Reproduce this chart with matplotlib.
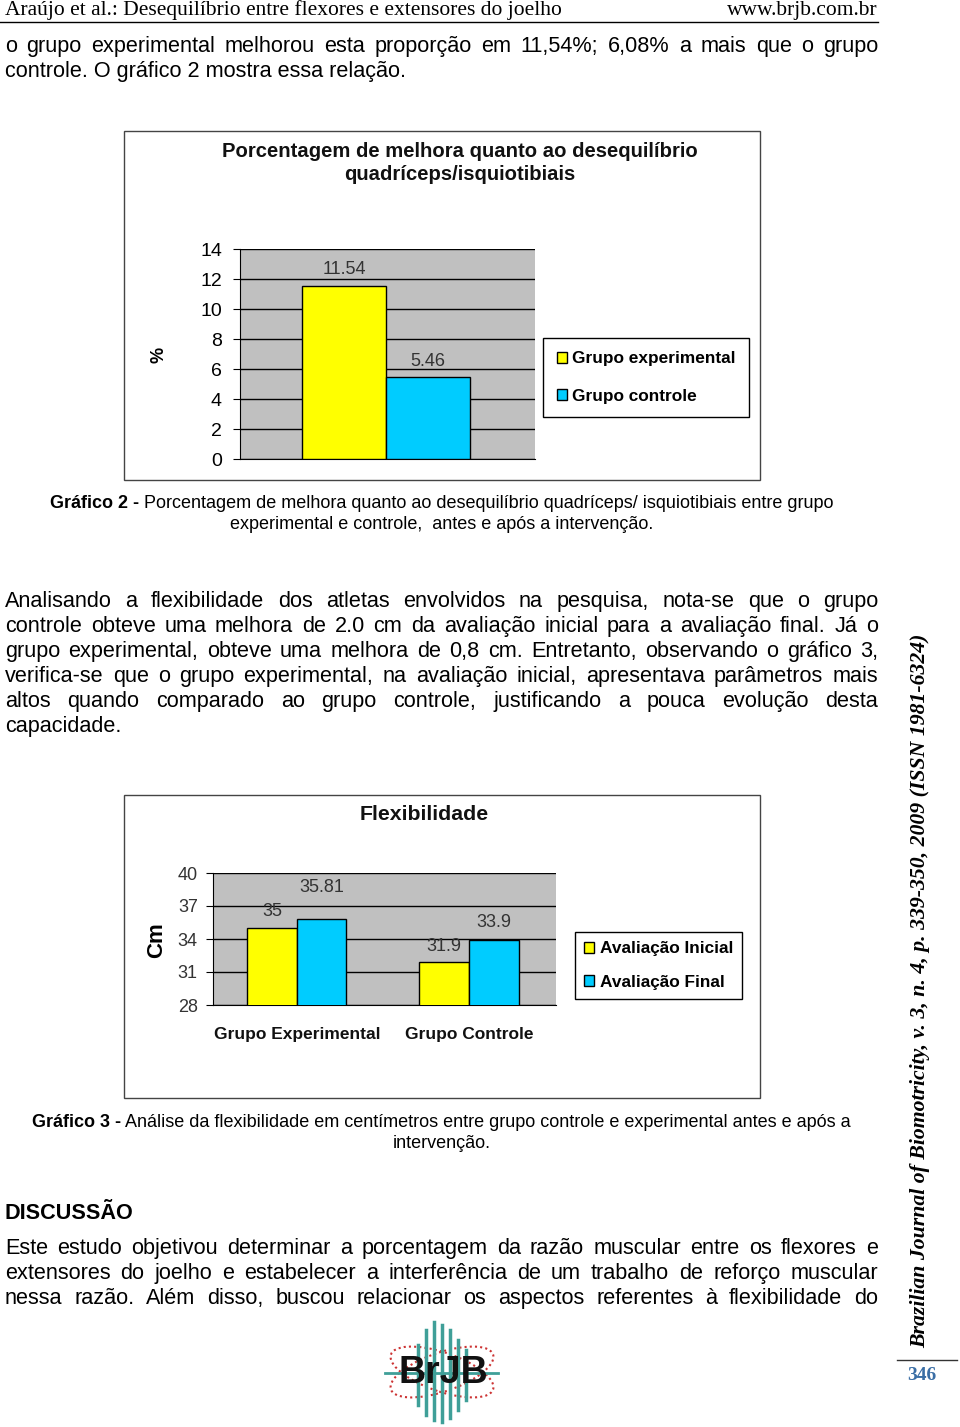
import matplotlib
matplotlib.use('Agg')
import matplotlib.pyplot as plt
from matplotlib.patches import Rectangle, Ellipse, Patch
from matplotlib.lines import Line2D
from matplotlib.transforms import ScaledTranslation
import numpy as np

W, H = 960, 1427
SANS = 'Liberation Sans'
SERIF = 'Liberation Serif'
BODY = 15.6

# Gráfico 2 - porcentagem de melhora
g2_series = ['Grupo experimental', 'Grupo controle']
g2_values = [11.54, 5.46]
g2_yticks = [0, 2, 4, 6, 8, 10, 12, 14]

# Gráfico 3 - flexibilidade (cm)
g3_groups = ['Grupo Experimental', 'Grupo Controle']
g3_series = ['Avaliação Inicial', 'Avaliação Final']
g3_inicial = [35, 31.9]
g3_final = [35.81, 33.9]
g3_yticks = [28, 31, 34, 37, 40]

YELLOW = '#ffff00'
CYAN = '#00ccff'
GRAY = '#c0c0c0'

fig = plt.figure(figsize=(9.6, 14.27), dpi=100)
rend = fig.canvas.get_renderer()


def fx(x):
    return x / W


def fy(y):
    return 1 - y / H


def txt(x, y, s, **kw):
    kw.setdefault('family', SANS)
    kw.setdefault('va', 'center')
    return fig.text(fx(x), fy(y), s, **kw)


def width(s, **kw):
    t = txt(0, 0, s, **kw)
    w = t.get_window_extent(rend).width
    t.remove()
    return w


def line(x, y, s, size=BODY, **kw):
    # y = centro visual da linha; desenha na linha de base
    return txt(x, y + size * 0.36, s, fontsize=size, va='baseline', **kw)


def justify(y, frase, x0=5, x1=878, size=BODY):
    # espalha as palavras entre as margens (texto justificado)
    words = frase.split()
    ws = [width(w, fontsize=size) for w in words]
    gap = (x1 - x0 - sum(ws)) / (len(words) - 1)
    x = x0
    for w, wd in zip(words, ws):
        line(x, y, w, size)
        x += wd + gap


def caption(y, bold, rest, cx=441.5, size=13):
    wb = width(bold, fontsize=size, weight='bold')
    wr = width(rest, fontsize=size)
    x = cx - (wb + wr) / 2
    line(x, y, bold, size, weight='bold')
    line(x + wb, y, rest, size)


def box(x0, y0, x1, y1):
    fig.add_artist(Rectangle((fx(x0), fy(y1)), (x1 - x0) / W, (y1 - y0) / H,
                             transform=fig.transFigure, fill=False,
                             ec='#444444', lw=1))


# cabeçalho
line(5, 9, 'Araújo et al.: Desequilíbrio entre flexores e extensores do joelho',
     15.5, family=SERIF)
line(878, 9, 'www.brjb.com.br', 15.5, family=SERIF, ha='right')
fig.add_artist(Line2D([0, fx(878)], [fy(22), fy(22)], color='black', lw=1))

justify(46, 'o grupo experimental melhorou esta proporção em 11,54%; 6,08% a mais que o grupo')
line(5, 71, 'controle. O gráfico 2 mostra essa relação.')

# ---------- gráfico 2 ----------
box(124, 131, 760, 480)
txt(459.5, 163, 'Porcentagem de melhora quanto ao desequilíbrio\nquadríceps/isquiotibiais',
    fontsize=14.6, weight='bold', ha='center', linespacing=1.3, color='#111111')

ax1 = fig.add_axes([fx(240), fy(459), 295 / W, 210 / H])
ax1.set_facecolor(GRAY)
cores1 = [YELLOW, CYAN]
for i, (nome, v) in enumerate(zip(g2_series, g2_values)):
    ax1.bar(i, v, width=1, color=cores1[i], edgecolor='black', lw=1,
            zorder=3, label=nome)
    ax1.annotate(f'{v:.2f}', (i, v), xytext=(0, 11.5), textcoords='offset points',
                 ha='center', va='center', fontsize=13, color='#333333',
                 family=SANS)
ax1.set_xlim(-1.238, 2.274)
ax1.set_ylim(0, 14)
ax1.set_yticks(g2_yticks)
ax1.set_xticks([])
ax1.grid(axis='y', color='black', lw=1, zorder=1)
ax1.set_axisbelow(True)
for s in ['top', 'right']:
    ax1.spines[s].set_visible(False)
ax1.spines['left'].set_color('black')
ax1.spines['bottom'].set_color('black')
ax1.tick_params(axis='y', length=5, direction='out', labelsize=14, pad=8)
for t in ax1.get_yticklabels():
    t.set_family(SANS)
ax1.set_ylabel('%', fontsize=13, weight='bold', family=SANS)
ax1.yaxis.set_label_coords(-0.247, 0.495)

h1 = [Patch(fc=c, ec='black', lw=1) for c in cores1]
leg1 = ax1.legend(h1, g2_series, loc='center',
                  bbox_to_anchor=(fx(646), fy(377.5)), bbox_transform=fig.transFigure,
                  prop={'family': SANS, 'weight': 'bold', 'size': 12.4},
                  handlelength=0.6, handleheight=0.6, handletextpad=0.3,
                  labelspacing=1.3, borderpad=0.8, fancybox=False,
                  edgecolor='black', framealpha=1)
leg1.get_frame().set_linewidth(1)

caption(503, 'Gráfico 2 -', ' Porcentagem de melhora quanto ao desequilíbrio quadríceps/ isquiotibiais entre grupo')
line(441.5, 524, 'experimental e controle,  antes e após a intervenção.', 13, ha='center')

justify(601, 'Analisando a flexibilidade dos atletas envolvidos na pesquisa, nota-se que o grupo')
justify(626, 'controle obteve uma melhora de 2.0 cm da avaliação inicial para a avaliação final. Já o')
justify(651, 'grupo experimental, obteve uma melhora de 0,8 cm. Entretanto, observando o gráfico 3,')
justify(676, 'verifica-se que o grupo experimental, na avaliação inicial, apresentava parâmetros mais')
justify(701, 'altos quando comparado ao grupo controle, justificando a pouca evolução desta')
line(5, 726, 'capacidade.')

# ---------- gráfico 3 ----------
box(124, 795, 760, 1098)
txt(424, 815, 'Flexibilidade', fontsize=15.3, weight='bold', ha='center', color='#111111')

ax2 = fig.add_axes([fx(213), fy(1005), 343 / W, 132 / H])
ax2.set_facecolor(GRAY)
x = np.arange(len(g3_groups))
bw = 0.288
ax2.bar(x - bw / 2, g3_inicial, width=bw, color=YELLOW, edgecolor='black',
        lw=1, zorder=3, label=g3_series[0])
ax2.bar(x + bw / 2, g3_final, width=bw, color=CYAN, edgecolor='black',
        lw=1, zorder=3, label=g3_series[1])
offs_ini = [12, 11.5]
offs_fin = [23, 12.5]
for xs, vals, offs in [(x - bw / 2, g3_inicial, offs_ini), (x + bw / 2, g3_final, offs_fin)]:
    for xi, v, o in zip(xs, vals, offs):
        ax2.annotate(f'{v:g}', (xi, v), xytext=(0, o), textcoords='offset points',
                     ha='center', va='center', fontsize=13, color='#333333',
                     family=SANS)
ax2.set_xlim(-0.488, 1.506)
ax2.set_ylim(28, 40)
ax2.set_yticks(g3_yticks)
ax2.set_xticks(x)
ax2.set_xticklabels(g3_groups, fontsize=12.5, weight='bold', family=SANS, color='#111111')
# o rótulo "Grupo Controle" aparece deslocado para a direita no original
lbl = ax2.get_xticklabels()[1]
lbl.set_transform(lbl.get_transform() + ScaledTranslation(21 / 100, 0, fig.dpi_scale_trans))
ax2.grid(axis='y', color='black', lw=1, zorder=1)
ax2.set_axisbelow(True)
for s in ['top', 'right']:
    ax2.spines[s].set_visible(False)
ax2.tick_params(axis='x', length=0, pad=16)
ax2.tick_params(axis='y', length=5, direction='out', labelsize=13, pad=6,
                labelcolor='#333333')
for t in ax2.get_yticklabels():
    t.set_family(SANS)
ax2.set_ylabel('Cm', fontsize=16, weight='bold', family=SANS)
ax2.yaxis.set_label_coords(-0.134, 0.49)

leg2 = ax2.legend(loc='center', bbox_to_anchor=(fx(658.5), fy(965.5)),
                  bbox_transform=fig.transFigure,
                  prop={'family': SANS, 'weight': 'bold', 'size': 12.4},
                  handlelength=0.6, handleheight=0.6, handletextpad=0.3,
                  labelspacing=1.05, borderpad=0.55, fancybox=False,
                  edgecolor='black', framealpha=1)
leg2.get_frame().set_linewidth(1)

caption(1122, 'Gráfico 3 -', ' Análise da flexibilidade em centímetros entre grupo controle e experimental antes e após a')
line(441.5, 1143, 'intervenção.', 13, ha='center')

line(5, 1213, 'DISCUSSÃO', weight='bold')
justify(1248, 'Este estudo objetivou determinar a porcentagem da razão muscular entre os flexores e')
justify(1273, 'extensores do joelho e estabelecer a interferência de um trabalho de reforço muscular')
justify(1298, 'nessa razão. Além disso, buscou relacionar os aspectos referentes à flexibilidade do')

# faixa lateral
txt(920, 990.5, 'Brazilian Journal of Biomotricity, v. 3, n. 4, p. 339-350, 2009 (ISSN 1981-6324)',
    family=SERIF, weight='bold', style='italic', fontsize=15.7, rotation=90, ha='center')
fig.add_artist(Line2D([fx(897), fx(957)], [fy(1360), fy(1360)], color='#333333', lw=1))
txt(922, 1375, '346', family=SERIF, weight='bold', fontsize=14, ha='center', color='#3a6ea5')

# logo BrJB (aproximação)
teal = '#3f9f98'
fig.add_artist(Line2D([fx(385), fx(498)], [fy(1373), fy(1373)], color=teal, lw=2))
for sx, top, bot in [(418, 1345, 1405), (426, 1330, 1415), (434, 1322, 1420),
                     (442, 1325, 1422), (450, 1330, 1418), (458, 1340, 1410),
                     (466, 1350, 1400)]:
    fig.add_artist(Line2D([fx(sx), fx(sx)], [fy(top), fy(bot)], color=teal, lw=2.5))
for ang in [12, -12]:
    fig.add_artist(Ellipse((fx(442), fy(1372)), 105 / W, 40 / H, angle=ang,
                           transform=fig.transFigure, fill=False, ec='#cc3333',
                           lw=1.5, ls=(0, (1, 1.5))))
txt(443, 1373, 'BrJB', fontsize=27, weight='bold', ha='center', color='#111111')

fig.savefig('out.png', dpi=100)
